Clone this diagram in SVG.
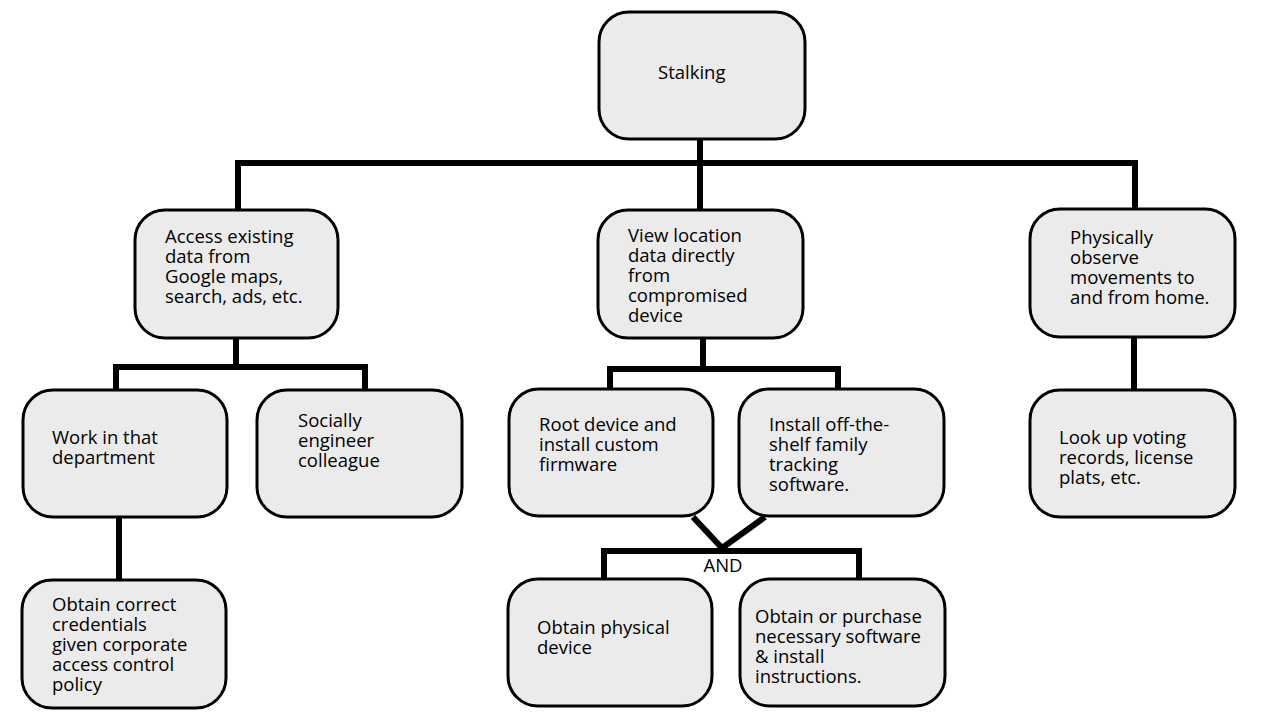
<svg xmlns="http://www.w3.org/2000/svg" width="1280" height="720" viewBox="0 0 1280 720">
<style>
.box{fill:#ebebeb;stroke:#000;stroke-width:3}
.c{fill:none;stroke:#000;stroke-width:6;stroke-linejoin:miter;stroke-linecap:square}
text{font-family:"Open Sans","Noto Sans","DejaVu Sans",sans-serif;font-size:18.5px;fill:#000}
</style>
<rect width="1280" height="720" fill="#fff"/>
<g id="connectors">
<path class="c" d="M700 139V163M238 208V163H1135V208M700 163V208"/>
<path class="c" d="M236 338V367M116 389V367H365V389"/>
<path class="c" d="M703 338V369M610 389V369H838V389"/>
<path class="c" d="M1134 337V389"/>
<path class="c" d="M119 517V580"/>
<path class="c" d="M693 517L722 548L765 517" style="stroke-linecap:butt"/>
<path class="c" d="M604 579V551H859V579"/>
<text x="723" y="572" text-anchor="middle">AND</text>
</g>
<g id="stalking"><rect class="box" x="599" y="12" width="206" height="127" rx="30"/><text x="658" y="79">Stalking</text></g>
<g id="access"><rect class="box" x="135" y="210" width="203" height="128" rx="30"/><text x="165" y="243">Access existing<tspan x="165" dy="20">data from</tspan><tspan x="165" dy="20">Google maps,</tspan><tspan x="165" dy="20">search, ads, etc.</tspan></text></g>
<g id="view"><rect class="box" x="598" y="210" width="205" height="128" rx="30"/><text x="628" y="242">View location<tspan x="628" dy="20">data directly</tspan><tspan x="628" dy="20">from</tspan><tspan x="628" dy="20">compromised</tspan><tspan x="628" dy="20">device</tspan></text></g>
<g id="physically"><rect class="box" x="1030" y="209" width="205" height="128" rx="30"/><text x="1070" y="244">Physically<tspan x="1070" dy="20">observe</tspan><tspan x="1070" dy="20">movements to</tspan><tspan x="1070" dy="20">and from home.</tspan></text></g>
<g id="work"><rect class="box" x="23" y="390" width="204" height="127" rx="30"/><text x="52" y="444">Work in that<tspan x="52" dy="20">department</tspan></text></g>
<g id="socially"><rect class="box" x="257" y="390" width="205" height="127" rx="30"/><text x="298" y="427">Socially<tspan x="298" dy="20">engineer</tspan><tspan x="298" dy="20">colleague</tspan></text></g>
<g id="root"><rect class="box" x="509" y="389" width="204" height="127" rx="30"/><text x="539" y="431">Root device and<tspan x="539" dy="20">install custom</tspan><tspan x="539" dy="20">firmware</tspan></text></g>
<g id="install"><rect class="box" x="739" y="389" width="205" height="127" rx="30"/><text x="769" y="431">Install off-the-<tspan x="769" dy="20">shelf family</tspan><tspan x="769" dy="20">tracking</tspan><tspan x="769" dy="20">software.</tspan></text></g>
<g id="lookup"><rect class="box" x="1030" y="390" width="205" height="127" rx="30"/><text x="1059" y="444">Look up voting<tspan x="1059" dy="20">records, license</tspan><tspan x="1059" dy="20">plats, etc.</tspan></text></g>
<g id="credentials"><rect class="box" x="22" y="580" width="204" height="128" rx="30"/><text x="52" y="611">Obtain correct<tspan x="52" dy="20">credentials</tspan><tspan x="52" dy="20">given corporate</tspan><tspan x="52" dy="20">access control</tspan><tspan x="52" dy="20">policy</tspan></text></g>
<g id="device"><rect class="box" x="508" y="579" width="204" height="127" rx="30"/><text x="537" y="634">Obtain physical<tspan x="537" dy="20">device</tspan></text></g>
<g id="software"><rect class="box" x="740" y="579" width="205" height="127" rx="30"/><text x="755" y="623">Obtain or purchase<tspan x="755" dy="20">necessary software</tspan><tspan x="755" dy="20">&amp; install</tspan><tspan x="755" dy="20">instructions.</tspan></text></g>
</svg>
